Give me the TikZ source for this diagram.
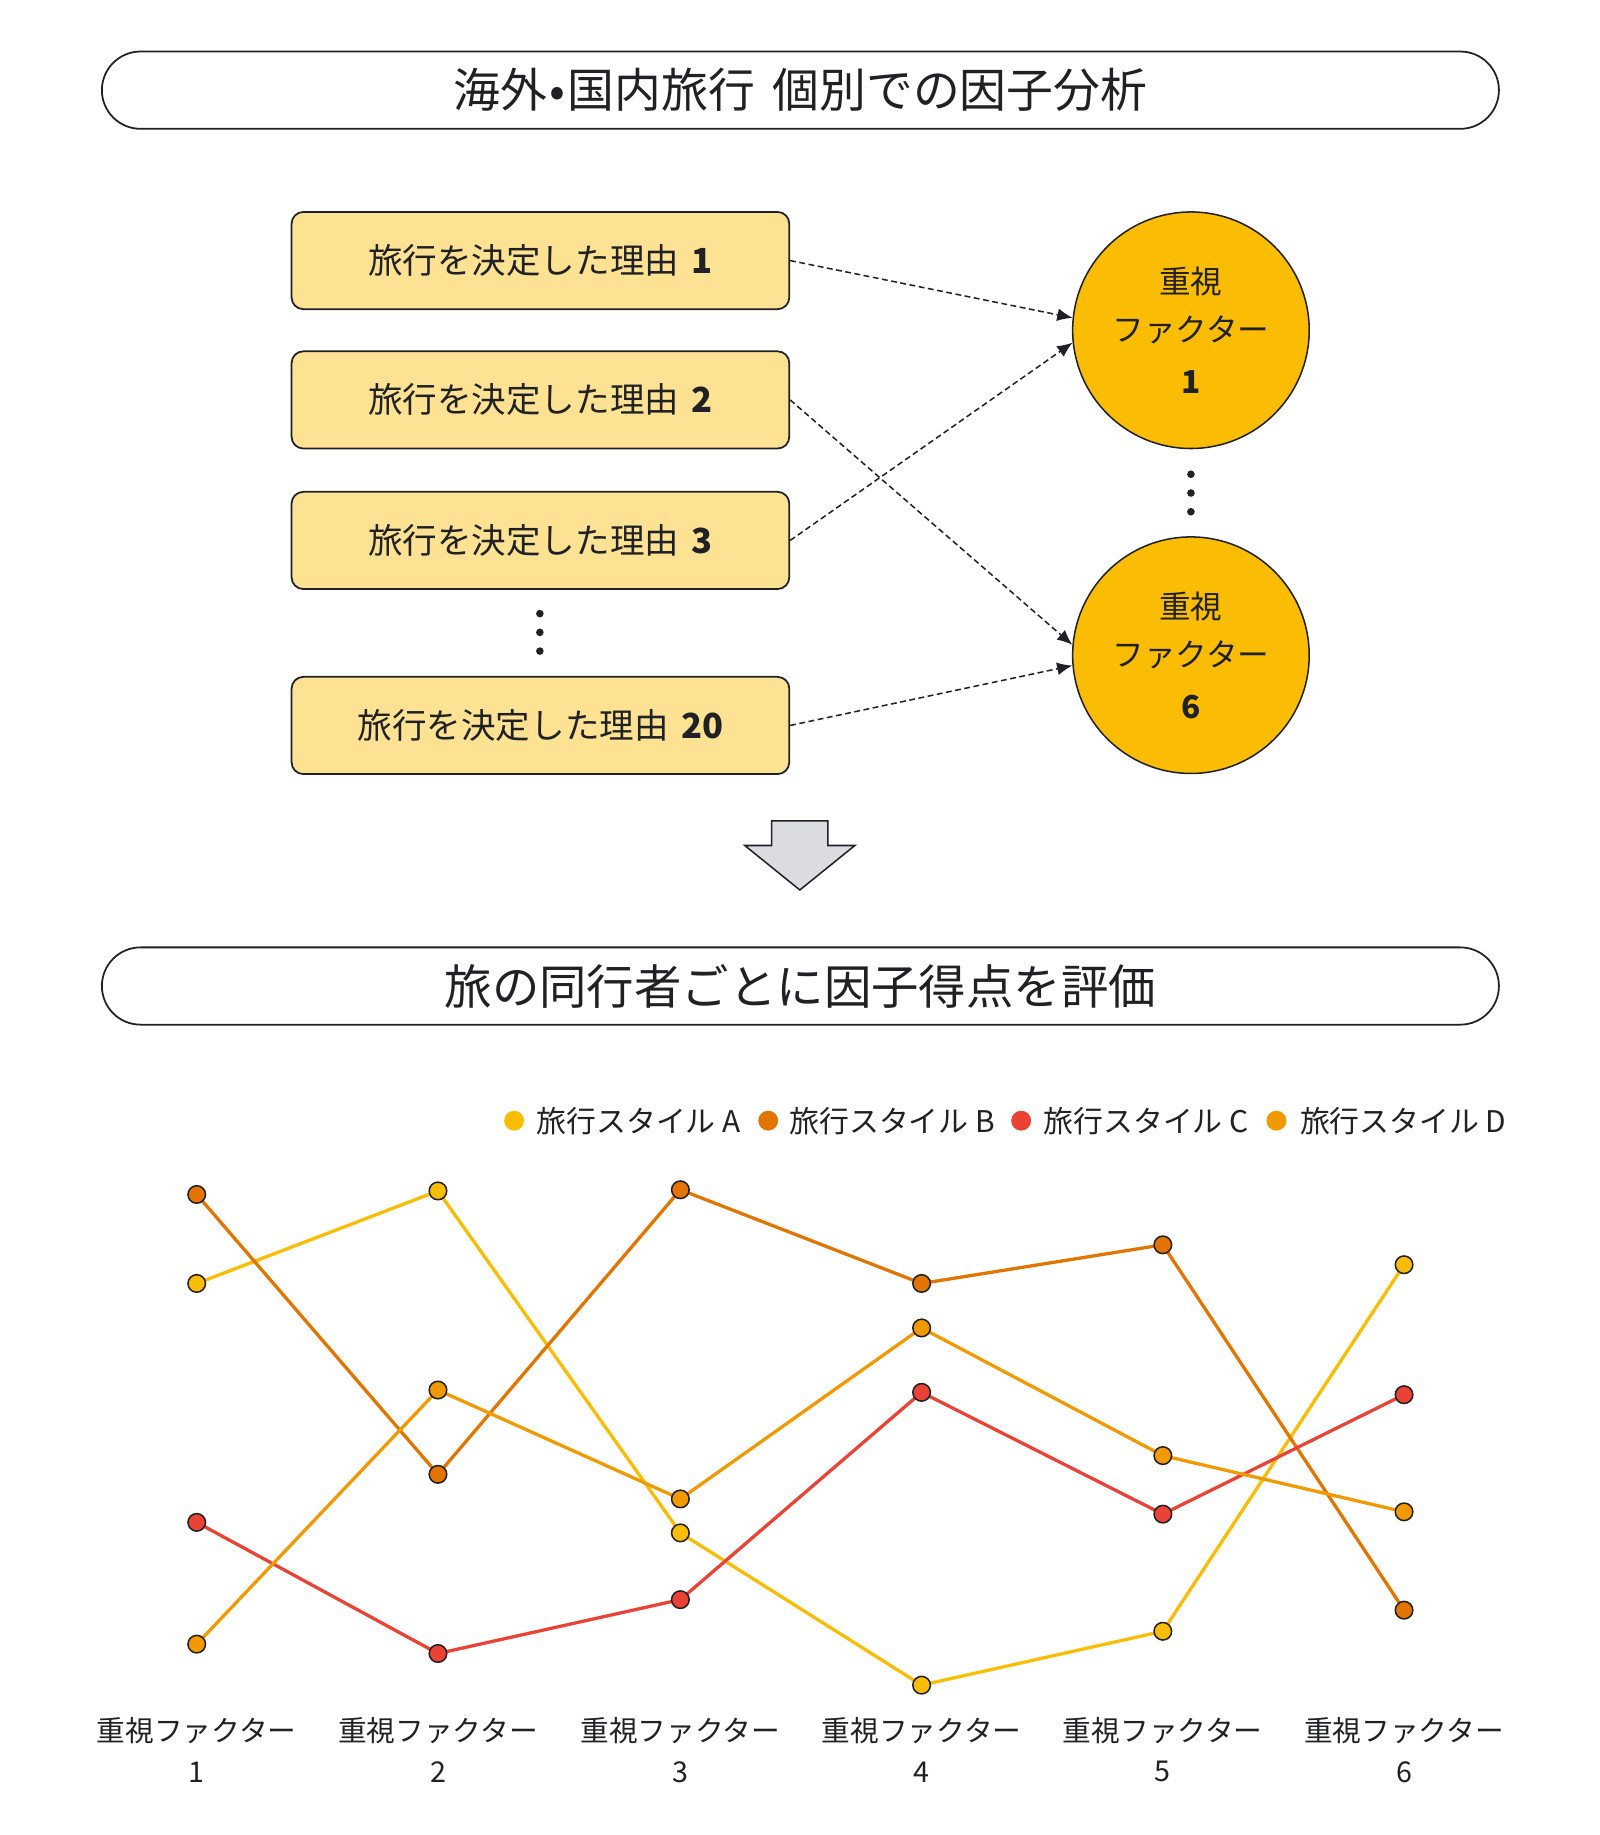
\documentclass[tikz,border=0pt]{standalone}
\usepackage{fontspec}
\setmainfont{Noto Sans CJK JP}
\usetikzlibrary{arrows.meta,shapes.geometric}
\definecolor{txt}{HTML}{202124}
\definecolor{boxfill}{HTML}{FDE293}
\definecolor{circfill}{HTML}{FBBC04}
\definecolor{serA}{HTML}{FBBC04}
\definecolor{serB}{HTML}{E37400}
\definecolor{serC}{HTML}{EA4335}
\definecolor{serD}{HTML}{F29900}
\definecolor{arrowgray}{HTML}{DADCE0}
\begin{document}
\begin{tikzpicture}[x=1pt,y=-1pt,
  every node/.style={text=txt},
  pill/.style={draw=txt, line width=1.5pt, rounded corners=33pt, minimum width=1193pt, minimum height=66pt, inner sep=0pt, font=\fontsize{40}{46}\selectfont},
  reason/.style={draw=txt, fill=boxfill, line width=1.5pt, rounded corners=10pt, minimum width=425pt, minimum height=83pt, inner sep=0pt, font=\fontsize{29.5}{34}\selectfont},
  factor/.style={circle, draw=txt, fill=circfill, line width=1.3pt, minimum size=202pt, inner sep=0pt, align=center, font=\fontsize{27}{44}\selectfont},
  flow/.style={draw=txt, line width=1.3pt, dash pattern=on 5pt off 3pt, -{Latex[length=13pt,width=11pt]}},
  ellipsisdot/.style={circle, fill=txt, minimum size=6.5pt, inner sep=0pt},
  series/.style={line width=2.8pt, line join=round},
  marker/.style={circle, draw=txt, line width=1.3pt, minimum size=15pt, inner sep=0pt},
  legdot/.style={circle, minimum size=17pt, inner sep=0pt},
  legtext/.style={anchor=west, inner sep=0pt, font=\fontsize{25.5}{30}\selectfont},
  axislabel/.style={inner sep=0pt, font=\fontsize{24.5}{30}\selectfont}
]
\useasboundingbox (0,0) rectangle (1366,1567);

% ---------- upper part ----------
\node[pill] (t1) at (683.5,77) {海外\kern2pt•\kern2pt国内旅行\hspace{6pt} 個別での因子分析};

\node[reason] (r1) at (461.5,222.5) {旅行を決定した理由\hspace{4pt} \textbf{1}};
\node[reason] (r2) at (461.5,341.5) {旅行を決定した理由\hspace{4pt} \textbf{2}};
\node[reason] (r3) at (461.5,461.5) {旅行を決定した理由\hspace{4pt} \textbf{3}};
\node[reason] (r20) at (461.5,619.5) {旅行を決定した理由\hspace{4pt} \textbf{20}};

\node[ellipsisdot] (rd1) at (461,524) {};
\node[ellipsisdot] (rd2) at (461,540) {};
\node[ellipsisdot] (rd3) at (461,556) {};

\node[factor] (f1) at (1017,282) {重視\\[-3pt]ファクター\\\textbf{1}};
\node[factor] (f6) at (1017,559.5) {重視\\[-3pt]ファクター\\\textbf{6}};

\node[ellipsisdot] (fd1) at (1017,405) {};
\node[ellipsisdot] (fd2) at (1017,421) {};
\node[ellipsisdot] (fd3) at (1017,437) {};

\draw[flow] (r1.east) -- (f1.174);
\draw[flow] (r3.east) -- (f1.186);
\draw[flow] (r2.east) -- (f6.175);
\draw[flow] (r20.east) -- (f6.185);

% down arrow
\draw[fill=arrowgray, draw=txt, line width=1.3pt, line join=miter]
  (659,701) -- (707,701) -- (707,722) -- (730,722) -- (683,760) -- (636,722) -- (659,722) -- cycle;

% ---------- lower part ----------
\node[pill, font=\fontsize{40.5}{46}\selectfont] (t2) at (683.5,842) {旅の同行者ごとに因子得点を評価};

% legend
\node[legdot, fill=serA] (la) at (439,957) {};
\node[legtext] (lta) at (458,957) {旅行スタイル A};
\node[legdot, fill=serB] (lb) at (656,957) {};
\node[legtext] (ltb) at (674,957) {旅行スタイル B};
\node[legdot, fill=serC] (lc) at (872,957) {};
\node[legtext] (ltc) at (891,957) {旅行スタイル C};
\node[legdot, fill=serD] (ld) at (1090,957) {};
\node[legtext] (ltd) at (1110,957) {旅行スタイル D};

% data points
\coordinate (a1) at (168,1096);
\coordinate (a2) at (374,1017);
\coordinate (a3) at (581,1309);
\coordinate (a4) at (787,1439);
\coordinate (a5) at (993,1393);
\coordinate (a6) at (1199,1080);

\coordinate (b1) at (168,1020);
\coordinate (b2) at (374,1259);
\coordinate (b3) at (581,1016);
\coordinate (b4) at (787,1096);
\coordinate (b5) at (993,1063);
\coordinate (b6) at (1199,1375);

\coordinate (c1) at (168,1300);
\coordinate (c2) at (374,1412);
\coordinate (c3) at (581,1366);
\coordinate (c4) at (787,1189);
\coordinate (c5) at (993,1293);
\coordinate (c6) at (1199,1191);

\coordinate (d1) at (168,1404);
\coordinate (d2) at (374,1187);
\coordinate (d3) at (581,1280);
\coordinate (d4) at (787,1134);
\coordinate (d5) at (993,1243);
\coordinate (d6) at (1199,1291);

\draw[series, serA] (a1) -- (a2) -- (a3) -- (a4) -- (a5) -- (a6);
\draw[series, serB] (b1) -- (b2) -- (b3) -- (b4) -- (b5) -- (b6);
\draw[series, serC] (c1) -- (c2) -- (c3) -- (c4) -- (c5) -- (c6);
\draw[series, serD] (d1) -- (d2) -- (d3) -- (d4) -- (d5) -- (d6);

\foreach \s/\col in {a/serA, b/serB, c/serC, d/serD}{
  \foreach \i in {1,...,6}{
    \node[marker, fill=\col] (m\s\i) at (\s\i) {};
  }
}

% axis labels
\foreach \i/\x in {1/168, 2/374, 3/581, 4/787, 5/993, 6/1199}{
  \node[axislabel] (xl\i) at (\x,1478) {重視ファクター};
  \node[axislabel] (xn\i) at (\x,1513) {\i};
}
\end{tikzpicture}
\end{document}
